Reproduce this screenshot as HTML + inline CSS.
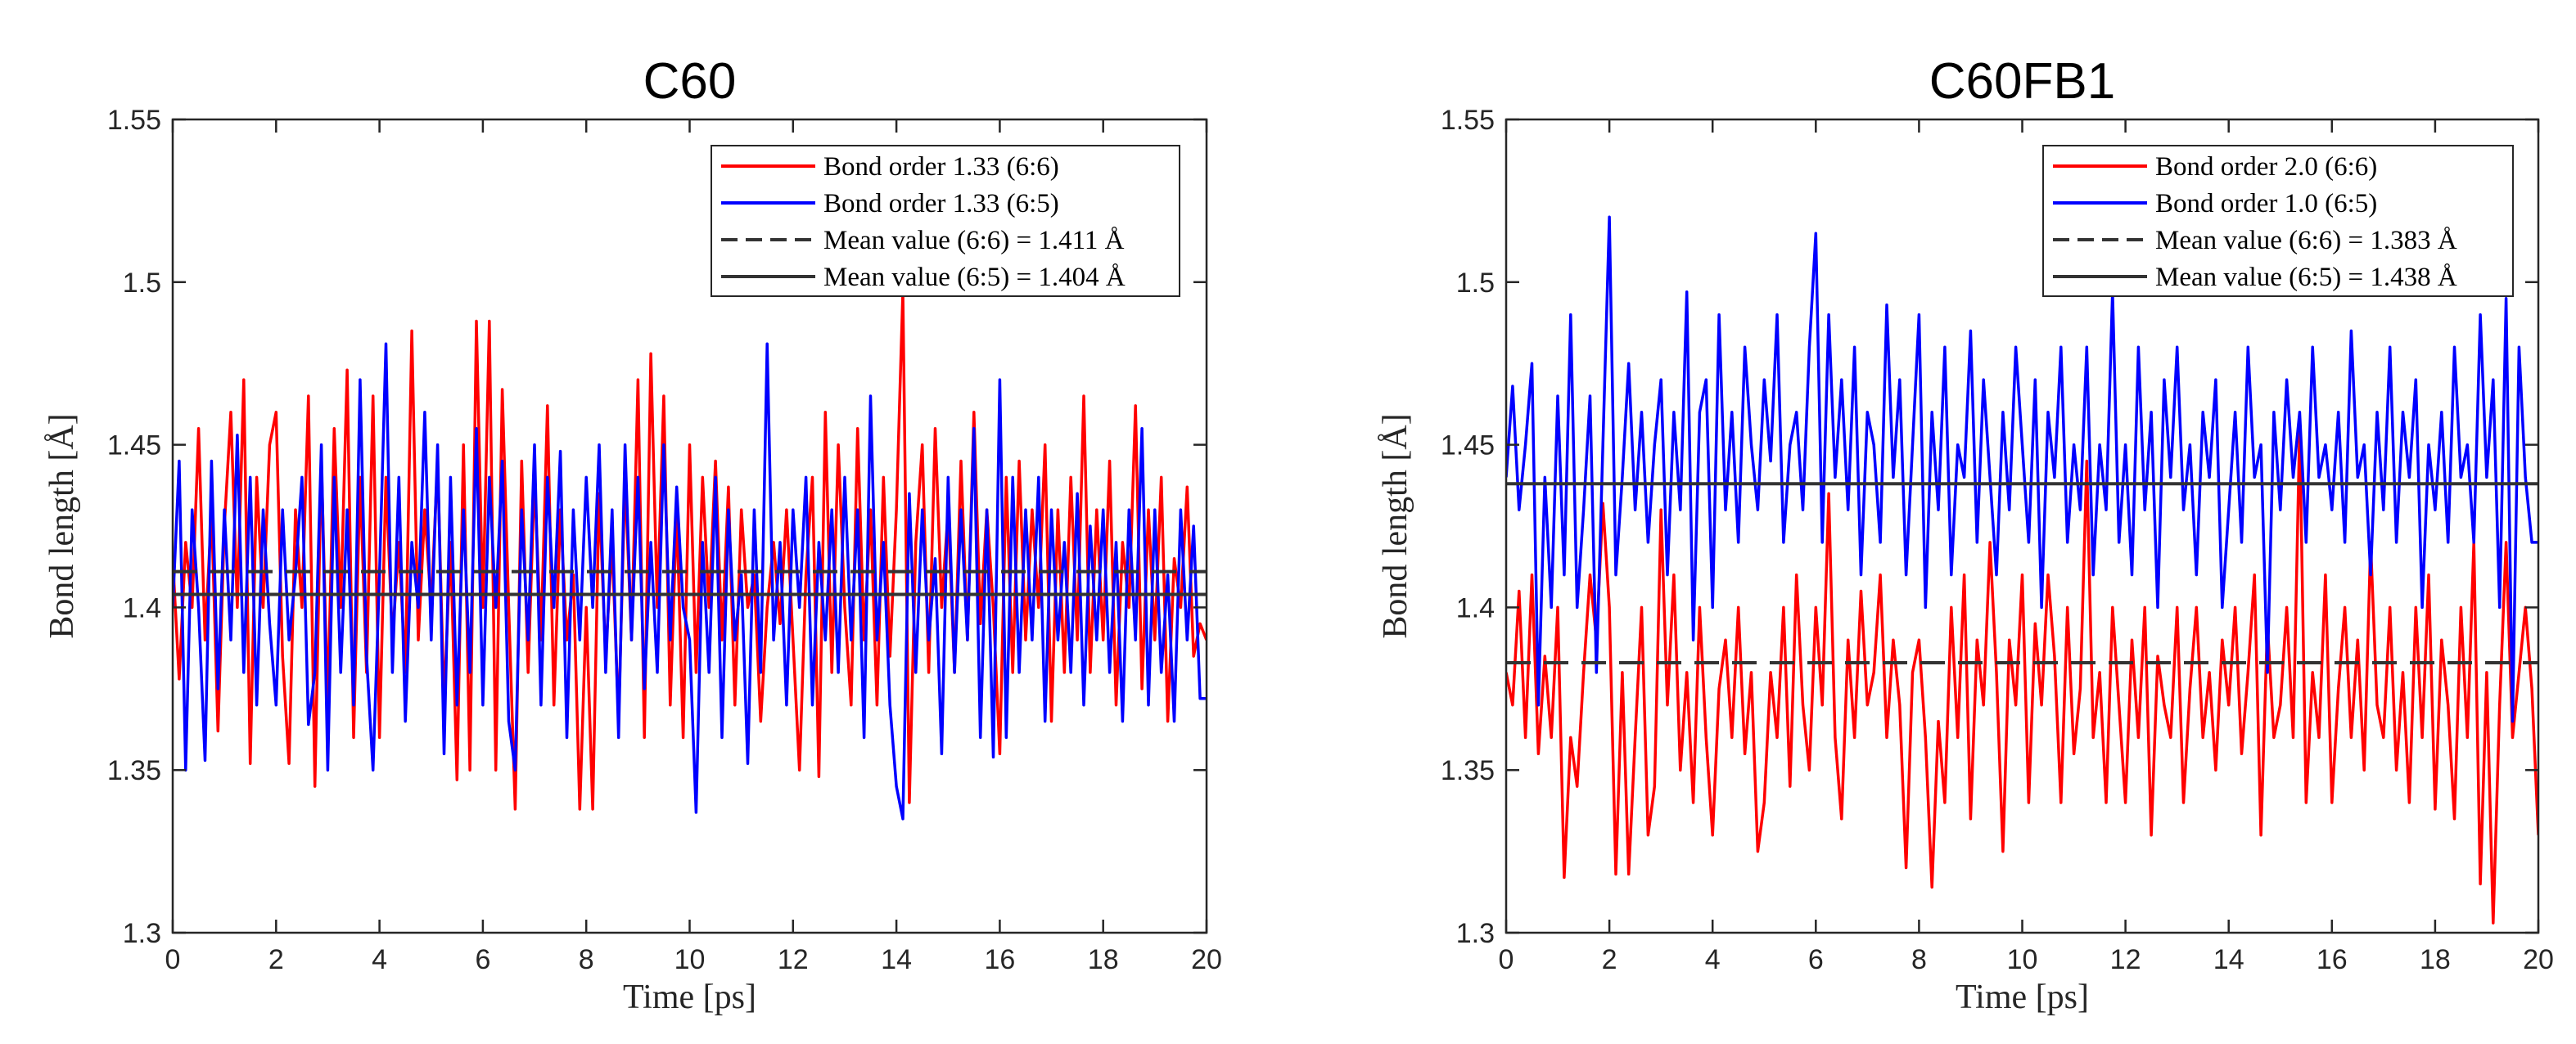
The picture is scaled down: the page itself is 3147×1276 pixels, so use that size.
<!DOCTYPE html>
<html><head><meta charset="utf-8"><style>
html,body{margin:0;padding:0;background:#fff;}
svg{display:block;}
</style></head><body>
<svg id="fig" width="3147" height="1276" xmlns="http://www.w3.org/2000/svg"></svg>
<script>
const timeStart = 0, timeStep = 0.125;
const yTicks = [1.3, 1.35, 1.4, 1.45, 1.5, 1.55];
const yTickLabels = ["1.3","1.35","1.4","1.45","1.5","1.55"];
const xTicks = [0,2,4,6,8,10,12,14,16,18,20];
const c60Red = [1.415,1.378,1.42,1.40,1.455,1.39,1.43,1.362,1.425,1.46,1.40,1.47,1.352,1.44,1.40,1.45,
1.46,1.385,1.352,1.43,1.40,1.465,1.345,1.445,1.37,1.455,1.40,1.473,1.36,1.44,1.38,1.465,
1.36,1.44,1.39,1.42,1.38,1.485,1.39,1.43,1.40,1.445,1.37,1.42,1.347,1.45,1.35,1.488,
1.40,1.488,1.35,1.467,1.40,1.338,1.445,1.38,1.44,1.39,1.462,1.37,1.43,1.39,1.41,1.338,
1.40,1.338,1.435,1.385,1.42,1.365,1.44,1.39,1.47,1.36,1.478,1.40,1.465,1.37,1.43,1.36,
1.45,1.38,1.44,1.40,1.445,1.39,1.437,1.37,1.43,1.40,1.41,1.365,1.40,1.42,1.395,1.43,
1.39,1.35,1.41,1.44,1.348,1.46,1.38,1.45,1.40,1.37,1.455,1.39,1.43,1.37,1.44,1.385,
1.43,1.497,1.34,1.42,1.45,1.38,1.455,1.40,1.43,1.38,1.445,1.39,1.46,1.395,1.43,1.40,
1.355,1.44,1.38,1.445,1.39,1.43,1.40,1.45,1.365,1.43,1.38,1.44,1.39,1.465,1.38,1.43,
1.39,1.445,1.37,1.42,1.40,1.462,1.375,1.43,1.39,1.44,1.365,1.415,1.40,1.437,1.385,1.395,1.39];
const c60Blue = [1.40,1.445,1.35,1.43,1.40,1.353,1.445,1.375,1.43,1.39,1.453,1.38,1.44,1.37,1.43,1.395,
1.37,1.43,1.39,1.41,1.44,1.364,1.38,1.45,1.35,1.44,1.38,1.43,1.37,1.47,1.385,1.35,
1.41,1.481,1.38,1.44,1.365,1.42,1.40,1.46,1.39,1.45,1.355,1.44,1.37,1.43,1.38,1.455,
1.37,1.44,1.40,1.445,1.365,1.35,1.43,1.39,1.45,1.37,1.44,1.40,1.448,1.36,1.43,1.39,
1.44,1.40,1.45,1.38,1.43,1.36,1.45,1.39,1.44,1.375,1.42,1.38,1.45,1.39,1.437,1.40,
1.39,1.337,1.42,1.38,1.44,1.36,1.43,1.39,1.41,1.352,1.43,1.38,1.481,1.39,1.42,1.37,
1.43,1.40,1.44,1.37,1.42,1.39,1.43,1.38,1.44,1.39,1.43,1.36,1.465,1.39,1.42,1.37,
1.345,1.335,1.435,1.38,1.43,1.39,1.415,1.355,1.44,1.38,1.43,1.39,1.455,1.36,1.43,1.354,
1.47,1.36,1.44,1.38,1.43,1.39,1.44,1.365,1.43,1.39,1.42,1.38,1.435,1.37,1.425,1.39,
1.43,1.38,1.42,1.365,1.43,1.39,1.455,1.37,1.43,1.38,1.41,1.365,1.43,1.39,1.425,1.372,1.372];
const fbRed = [1.38,1.37,1.405,1.36,1.41,1.355,1.385,1.36,1.40,1.317,1.36,1.345,1.38,1.41,1.39,1.432,
1.40,1.318,1.38,1.318,1.36,1.40,1.33,1.345,1.43,1.37,1.41,1.35,1.38,1.34,1.40,1.36,
1.33,1.375,1.39,1.36,1.40,1.355,1.38,1.325,1.34,1.38,1.36,1.40,1.345,1.41,1.37,1.35,
1.40,1.37,1.435,1.36,1.335,1.39,1.36,1.405,1.37,1.38,1.41,1.36,1.39,1.37,1.32,1.38,
1.39,1.36,1.314,1.365,1.34,1.40,1.36,1.41,1.335,1.39,1.37,1.42,1.38,1.325,1.39,1.37,
1.41,1.34,1.395,1.37,1.41,1.385,1.34,1.40,1.355,1.375,1.445,1.36,1.38,1.34,1.40,1.37,
1.34,1.39,1.36,1.40,1.33,1.385,1.37,1.36,1.40,1.34,1.375,1.40,1.36,1.38,1.35,1.39,
1.37,1.40,1.355,1.38,1.41,1.33,1.395,1.36,1.37,1.40,1.36,1.455,1.34,1.38,1.36,1.41,
1.34,1.375,1.40,1.36,1.39,1.35,1.42,1.37,1.36,1.40,1.35,1.38,1.34,1.40,1.36,1.41,
1.338,1.39,1.37,1.335,1.40,1.36,1.42,1.315,1.38,1.303,1.37,1.42,1.36,1.38,1.40,1.375,1.33];
const fbBlue = [1.44,1.468,1.43,1.45,1.475,1.37,1.44,1.40,1.465,1.41,1.49,1.40,1.43,1.465,1.38,1.45,
1.52,1.41,1.44,1.475,1.43,1.46,1.42,1.45,1.47,1.41,1.46,1.43,1.497,1.39,1.46,1.47,
1.40,1.49,1.43,1.46,1.42,1.48,1.45,1.43,1.47,1.445,1.49,1.42,1.45,1.46,1.43,1.48,
1.515,1.42,1.49,1.44,1.47,1.43,1.48,1.41,1.46,1.45,1.42,1.493,1.44,1.47,1.41,1.45,
1.49,1.40,1.46,1.43,1.48,1.41,1.45,1.44,1.485,1.42,1.47,1.44,1.41,1.46,1.43,1.48,
1.45,1.42,1.47,1.40,1.46,1.44,1.48,1.42,1.45,1.43,1.48,1.41,1.45,1.43,1.497,1.42,
1.45,1.41,1.48,1.43,1.46,1.40,1.47,1.44,1.48,1.43,1.45,1.41,1.46,1.44,1.47,1.40,
1.43,1.46,1.42,1.48,1.44,1.45,1.38,1.46,1.43,1.47,1.44,1.46,1.42,1.48,1.44,1.45,
1.43,1.46,1.42,1.485,1.44,1.45,1.41,1.46,1.43,1.48,1.42,1.46,1.44,1.47,1.40,1.45,
1.43,1.46,1.42,1.48,1.44,1.45,1.42,1.49,1.44,1.47,1.40,1.495,1.365,1.48,1.44,1.42,1.42];
const c60Means = [1.411, 1.404];
const fbMeans = [1.383, 1.438];
const c60Legend = ["Bond order 1.33 (6:6)","Bond order 1.33 (6:5)","Mean value (6:6) = 1.411 Å","Mean value (6:5) = 1.404 Å"];
const fbLegend = ["Bond order 2.0 (6:6)","Bond order 1.0 (6:5)","Mean value (6:6) = 1.383 Å","Mean value (6:5) = 1.438 Å"];

const NS = "http://www.w3.org/2000/svg";
const svg = document.getElementById('fig');
function mk(tag, attrs, parent){const e=document.createElementNS(NS,tag);for(const k in attrs)e.setAttribute(k,attrs[k]);(parent||svg).appendChild(e);return e;}

function panel(cfg){
  const g = mk('g',{});
  
  
  const L=cfg.left,R=cfg.right,T=146,B=1140;
  const xs = v => L + (v-0)/(20-0)*(R-L);
  const ys = v => B - (v-1.3)/(1.55-1.3)*(B-T);
  const title = mk('text',{x:(L+R)/2,y:120,'text-anchor':'middle','font-family':'Liberation Sans, sans-serif','font-size':62,fill:'#000'},g);
  title.textContent = cfg.title;
  
  
  const series = [[cfg.red,'#ff0000','red-series'],[cfg.blue,'#0000ff','blue-series']];
  const clip = mk('clipPath',{id:'clip'+cfg.name},g); mk('rect',{x:L,y:T,width:R-L,height:B-T},clip);
  for(const [arr,col,nm] of series){
    const pts = arr.map((v,i)=>xs(timeStart+i*timeStep).toFixed(1)+','+ys(v).toFixed(1)).join(' ');
    const pl = mk('polyline',{points:pts,fill:'none',stroke:col,'stroke-width':3.5,'stroke-linejoin':'round','clip-path':'url(#clip'+cfg.name+')'},g);
    
    
  }
  const m1 = mk('line',{x1:L,x2:R,y1:ys(cfg.means[0]),y2:ys(cfg.means[0]),stroke:'#333','stroke-width':4,'stroke-dasharray':'30 16'},g);
  
  
  const m2 = mk('line',{x1:L,x2:R,y1:ys(cfg.means[1]),y2:ys(cfg.means[1]),stroke:'#333','stroke-width':4},g);
  
  
  const box = mk('rect',{x:L,y:T,width:R-L,height:B-T,fill:'none',stroke:'#262626','stroke-width':2.5},g);
  
  
  yTicks.forEach((v,i)=>{
    const y=ys(v);
    mk('line',{x1:L,x2:L+16,y1:y,y2:y,stroke:'#262626','stroke-width':2.5},g);
    mk('line',{x1:R-16,x2:R,y1:y,y2:y,stroke:'#262626','stroke-width':2.5},g);
    const t=mk('text',{x:L-14,y:y+12,'text-anchor':'end','font-family':'Liberation Sans, sans-serif','font-size':34,fill:'#262626'},g);
    t.textContent=yTickLabels[i];
    
    
  });
  xTicks.forEach(v=>{
    const x=xs(v);
    mk('line',{x1:x,x2:x,y1:B,y2:B-16,stroke:'#262626','stroke-width':2.5},g);
    mk('line',{x1:x,x2:x,y1:T,y2:T+16,stroke:'#262626','stroke-width':2.5},g);
    const t=mk('text',{x:x,y:B+44,'text-anchor':'middle','font-family':'Liberation Sans, sans-serif','font-size':34,fill:'#262626'},g);
    t.textContent=String(v);
    
    
  });
  const xl=mk('text',{x:(L+R)/2,y:1232,'text-anchor':'middle','font-family':'Liberation Serif, serif','font-size':42,fill:'#262626'},g);
  xl.textContent='Time [ps]';
  
  
  const yx=L-122, yy=(T+B)/2;
  const yl=mk('text',{x:yx,y:yy,'text-anchor':'middle','font-family':'Liberation Serif, serif','font-size':42,fill:'#262626',transform:`rotate(-90 ${yx} ${yy})`},g);
  yl.textContent='Bond length [Å]';
  
  
  const lg = mk('g',{},g);
  
  
  const lx=cfg.legX, lw=cfg.legW, ly=178, lh=184;
  mk('rect',{x:lx,y:ly,width:lw,height:lh,fill:'#fff',stroke:'#262626','stroke-width':2},lg);
  const styles=[['#ff0000',null],['#0000ff',null],['#333','20 10'],['#333',null]];
  cfg.legend.forEach((txt,i)=>{
    const cy=ly+25+i*45;
    const ln=mk('line',{x1:lx+12,x2:lx+127,y1:cy,y2:cy,stroke:styles[i][0],'stroke-width':4},lg);
    if(styles[i][1]) ln.setAttribute('stroke-dasharray',styles[i][1]);
    const t=mk('text',{x:lx+137,y:cy+11,'font-family':'Liberation Serif, serif','font-size':33,fill:'#000'},lg);
    t.textContent=txt;
    
    
  });
}
panel({name:'c60-panel',title:'C60',left:211,right:1474,red:c60Red,blue:c60Blue,means:c60Means,legend:c60Legend,legX:869,legW:572});
panel({name:'c60fb1-panel',title:'C60FB1',left:1840,right:3101,red:fbRed,blue:fbBlue,means:fbMeans,legend:fbLegend,legX:2496,legW:574});
</script>
</body></html>
